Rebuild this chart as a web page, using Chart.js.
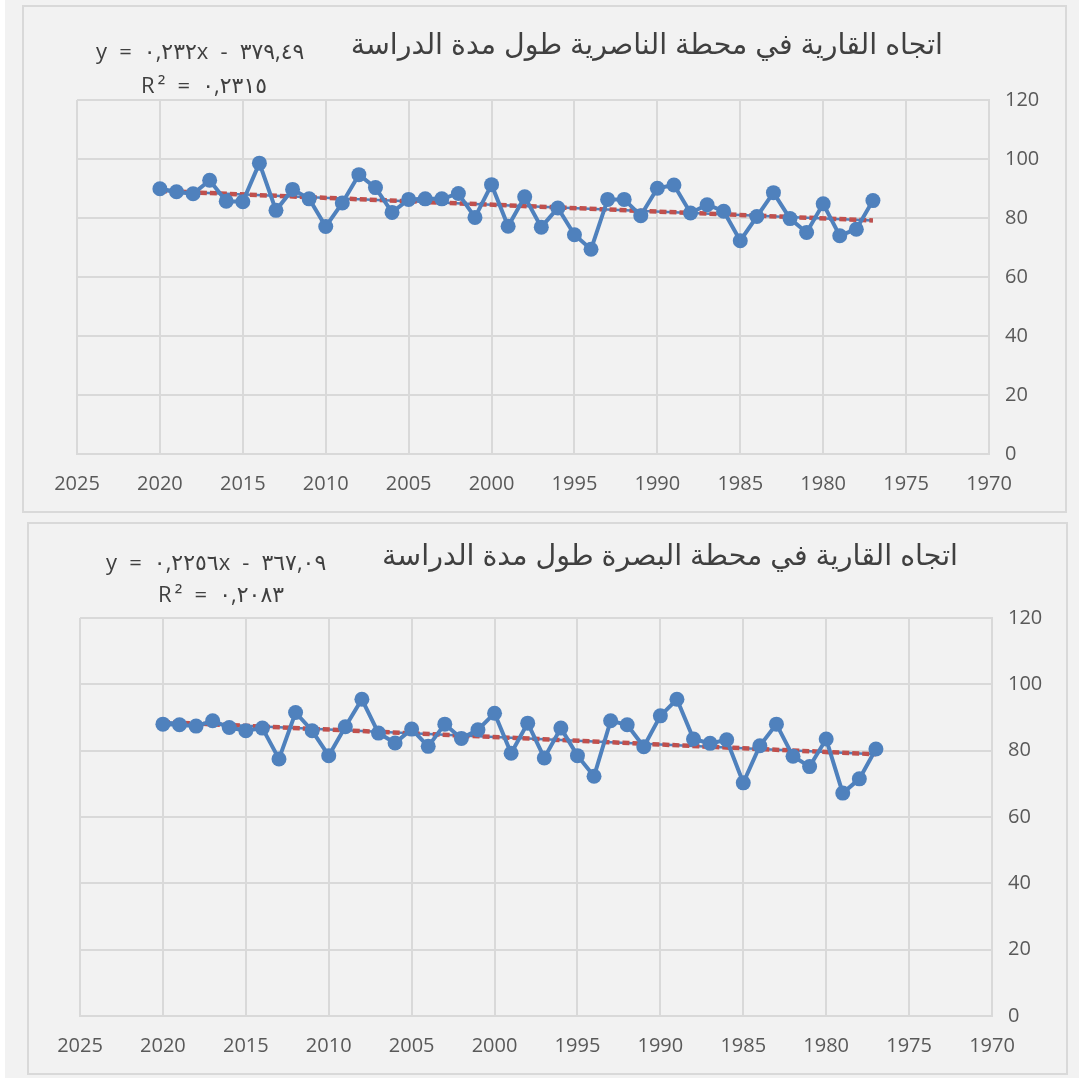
<!DOCTYPE html>
<html>
<head>
<meta charset="utf-8">
<script src="https://cdn.jsdelivr.net/npm/chart.js@4.4.1/dist/chart.umd.min.js"></script>
<style>
  html, body { margin: 0; padding: 0; background: #ffffff; }
  #page { position: absolute; left: 5px; top: 0; width: 1074px; height: 1078px; background: #f2f2f2; }
  .box { position: absolute; background: #f2f2f2; border: 2px solid #d9d9d9; box-sizing: border-box; }
  .box canvas { position: absolute; left: 0; top: 0; }
  .title { position: absolute; font-family: "Liberation Sans", "DejaVu Sans", sans-serif; font-size: 28.5px; color: #404040; direction: rtl; white-space: nowrap; }
  .eq { position: absolute; font-family: "Open Sans", "DejaVu Sans", sans-serif; font-size: 22px; letter-spacing: 3.2px; color: #404040; direction: ltr; unicode-bidi: isolate; white-space: nowrap; }
</style>
</head>
<body>
<div id="page"></div>
<div class="box" id="box1" style="left:22px; top:5px; width:1045px; height:508px;">
  <canvas id="chart1"></canvas>
  <div class="title" style="right:122px; top:21px;">اتجاه القارية في محطة الناصرية طول مدة الدراسة</div>
  <div class="eq" style="left:72px; top:28px;">y = ٠,٢٣٢x - ٣٧٩,٤٩</div>
  <div class="eq" style="left:117px; top:62px;">R² = ٠,٢٣١٥</div>
</div>
<div class="box" id="box2" style="left:27px; top:522px; width:1041px; height:553px;">
  <canvas id="chart2"></canvas>
  <div class="title" style="right:108px; top:15px;">اتجاه القارية في محطة البصرة طول مدة الدراسة</div>
  <div class="eq" style="left:77px; top:22px;">y = ٠,٢٢٥٦x - ٣٦٧,٠٩</div>
  <div class="eq" style="left:129px; top:54px;">R² = ٠,٢٠٨٣</div>
</div>
<script>
// years of the study (x axis runs backwards, 2025 -> 1970)
const years = [2020, 2019, 2018, 2017, 2016, 2015, 2014, 2013, 2012, 2011,
               2010, 2009, 2008, 2007, 2006, 2005, 2004, 2003, 2002, 2001,
               2000, 1999, 1998, 1997, 1996, 1995, 1994, 1993, 1992, 1991,
               1990, 1989, 1988, 1987, 1986, 1985, 1984, 1983, 1982, 1981,
               1980, 1979, 1978, 1977];

// continentality index, Nasiriyah station
const nasiriyah = [89.9, 88.9, 88.2, 92.8, 85.7, 85.5, 98.6, 82.6, 89.7, 86.5,
                   77.1, 85.1, 94.7, 90.3, 81.9, 86.3, 86.5, 86.5, 88.3, 80.2,
                   91.3, 77.2, 87.2, 76.9, 83.4, 74.3, 69.4, 86.3, 86.3, 80.8,
                   90.1, 91.2, 81.7, 84.5, 82.3, 72.3, 80.5, 88.6, 79.8, 75.1,
                   84.8, 74.0, 76.2, 85.9];

// continentality index, Basra station
const basra = [88.0, 87.8, 87.4, 89.0, 87.0, 86.0, 86.8, 77.5, 91.5, 86.0,
               78.5, 87.2, 95.5, 85.3, 82.3, 86.5, 81.3, 88.0, 83.7, 86.3,
               91.3, 79.2, 88.3, 77.8, 86.8, 78.5, 72.3, 89.0, 87.8, 81.2,
               90.5, 95.5, 83.5, 82.2, 83.3, 70.3, 81.5, 88.0, 78.3, 75.2,
               83.5, 67.2, 71.5, 80.5];

// trendline equations as printed on the charts
const trendNasiriyah = [0.232, -379.49];
const trendBasra = [0.2256, -367.09];

const xTicks = [1970, 1975, 1980, 1985, 1990, 1995, 2000, 2005, 2010, 2015, 2020, 2025];
const yTicks = [0, 20, 40, 60, 80, 100, 120];

const blue = '#4f81bd';
const red = '#c0504d';
const gridColor = '#d9d9d9';
const tickFont = { family: 'Open Sans', size: 20 };

function makeChart(canvasId, w, h, values, trend, pad) {
    const pts = years.map((yr, i) => ({ x: yr, y: values[i] }));
    const first = years[0], last = years[years.length - 1];
    const trendPts = [
        { x: first, y: trend[0] * first + trend[1] },
        { x: last, y: trend[0] * last + trend[1] }
    ];
    const cv = document.getElementById(canvasId);
    cv.width = w; cv.height = h;
    cv.style.width = w + 'px'; cv.style.height = h + 'px';
    return new Chart(cv.getContext('2d'), {
        type: 'line',
        data: {
            datasets: [{
                data: pts,
                borderColor: blue,
                backgroundColor: blue,
                borderWidth: 4,
                pointRadius: 7.5,
                pointHoverRadius: 7.5,
                pointBorderWidth: 0,
                pointBackgroundColor: blue,
                tension: 0,
                order: 1
            }, {
                // trendline: blue under, red dots on top
                data: trendPts,
                borderColor: blue,
                borderWidth: 2.5,
                pointRadius: 0,
                order: 3
            }, {
                data: trendPts,
                borderColor: red,
                borderWidth: 4.5,
                borderDash: [7, 3],
                pointRadius: 0,
                order: 2
            }]
        },
        options: {
            responsive: false,
            animation: false,
            events: [],
            layout: { padding: { left: pad.left, top: pad.top, right: 0, bottom: 0 } },
            plugins: { legend: { display: false }, tooltip: { enabled: false } },
            scales: {
                x: {
                    type: 'linear',
                    reverse: true,
                    min: 1970,
                    max: 2025,
                    afterBuildTicks: s => { s.ticks = xTicks.map(v => ({ value: v })); },
                    afterFit: s => { s.height = pad.bottom; },
                    grid: { color: gridColor, lineWidth: 2, drawTicks: false },
                    border: { color: gridColor, width: 2 },
                    ticks: { color: '#595959', font: tickFont, padding: 18, maxRotation: 0,
                             callback: v => String(v) }
                },
                y: {
                    position: 'right',
                    min: 0,
                    max: 120,
                    afterBuildTicks: s => { s.ticks = yTicks.map(v => ({ value: v })); },
                    afterFit: s => { s.width = pad.right; },
                    grid: { color: gridColor, lineWidth: 2, drawTicks: false },
                    border: { color: gridColor, width: 2 },
                    ticks: { color: '#595959', font: tickFont, padding: 16,
                             callback: v => String(v) }
                }
            }
        }
    });
}

makeChart('chart1', 1041, 504, nasiriyah, trendNasiriyah, { left: 53, top: 93, right: 76, bottom: 57 });
makeChart('chart2', 1037, 549, basra, trendBasra, { left: 51, top: 94, right: 74, bottom: 57 });
</script>
</body>
</html>
